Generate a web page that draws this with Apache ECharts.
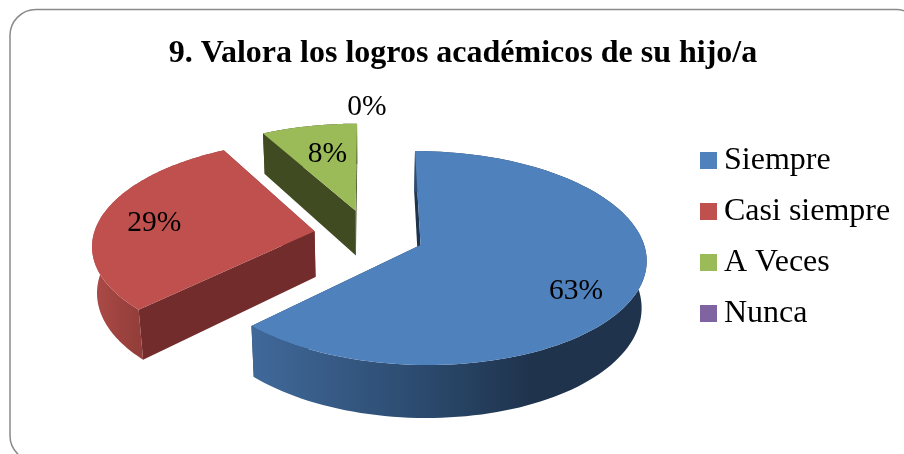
<!DOCTYPE html>
<html>
<head>
<meta charset="utf-8">
<style>html,body{margin:0;padding:0;background:#fff}#c{width:904px;height:454px}</style>
<script src="https://cdn.jsdelivr.net/npm/echarts@6/dist/echarts.min.js"></script>
</head>
<body>
<div id="c"></div>
<script>
const chartTitle = '9. Valora los logros académicos de su hijo/a';
const categories = ['Siempre', 'Casi siempre', 'A Veces', 'Nunca'];
const values = [62.6, 29.4, 8.0, 0];
const colors = ['#4F81BD', '#C0504D', '#9BBB59', '#8064A2'];
const cutColors = ['#1F334D', '#722C2B', '#404B22', '#3F3151'];
const labelReach = [0.80, 0.72, 0.56, 1.22];
const labelNudge = [[-18, 12], [-6, 2], [-1, -7], [-2, 1]];

// Projection of the tilted, exploded disc
const cx = 369, cy = 235, R = 221, tilt = 0.466, persp = 0.12, depth = 46, depthPersp = 0.018, explode = 0.25;
const total = values.reduce((a, b) => a + b, 0);
const FONT = '"Liberation Serif","Times New Roman",serif';

function project(X, Y, low) {
  const w = 1 - persp * Y;
  const wx = w + (low ? depthPersp : 0);
  return [cx + R * X / wx, cy + (R * Y * tilt + (low ? depth : 0)) / w];
}
function wallFill(i) {
  if (i === 0) return {type:'linear', global:true, x:252, y:0, x2:530, y2:0, colorStops:[
    {offset:0,color:'#40699A'},{offset:0.65,color:'#2A486B'},{offset:1,color:'#1F334D'}]};
  if (i === 1) return {type:'linear', global:true, x:95, y:0, x2:142, y2:0, colorStops:[
    {offset:0,color:'#AB4A46'},{offset:1,color:'#913D39'}]};
  return cutColors[i];
}
function sliceRender(i) {
  return function (params, api) {
    const v = api.value(0);
    let before = 0;
    for (let k = 0; k < i; k++) before += values[k];
    const a0 = before / total * 2 * Math.PI;
    const a1 = (before + v) / total * 2 * Math.PI;
    const mid = (a0 + a1) / 2;
    const ox = Math.sin(mid) * explode, oy = -Math.cos(mid) * explode;
    const children = [];
    const pct = Math.round(v / total * 100) + '%';
    if (v > 0) {
      const topArc = [], lowArc = [];
      const n = 120;
      for (let s = 0; s <= n; s++) {
        const a = a0 + (a1 - a0) * s / n;
        const X = ox + Math.sin(a), Y = oy - Math.cos(a);
        topArc.push(project(X, Y, false));
        lowArc.push(project(X, Y, true));
      }
      const apexT = project(ox, oy, false), apexL = project(ox, oy, true);
      const cut = (p, q) => ({type:'polygon', silent:true,
        shape:{points:[apexT, p, q, apexL]}, style:{fill:cutColors[i]}});
      children.push(cut(topArc[0], lowArc[0]));
      children.push(cut(topArc[n], lowArc[n]));
      children.push({type:'polygon', silent:true,
        shape:{points:topArc.concat(lowArc.slice().reverse())}, style:{fill:wallFill(i)}});
      children.push({type:'polygon', silent:true,
        shape:{points:[apexT].concat(topArc)}, style:{fill:colors[i]}});
    }
    const lab = project(ox + Math.sin(mid) * labelReach[i], oy - Math.cos(mid) * labelReach[i], false);
    children.push({type:'text', silent:true, x:lab[0] + labelNudge[i][0], y:lab[1] + labelNudge[i][1], z2:50,
      style:{text:pct, fill:'#000', font:'29.5px ' + FONT, align:'center', verticalAlign:'middle'}});
    return {type:'group', children};
  };
}

const chart = echarts.init(document.getElementById('c'), null, {renderer:'canvas'});
chart.setOption({
  animation:false,
  backgroundColor:'#fff',
  title:{text:chartTitle, left:458, top:33, textAlign:'center',
    textStyle:{fontFamily:FONT, fontWeight:'bold', fontSize:32, color:'#000'}},
  legend:{
    data:categories, orient:'vertical', left:700, top:143, itemWidth:17, itemHeight:17, itemGap:16,
    icon:'rect', selectedMode:false, padding:0,
    textStyle:{fontFamily:FONT, fontSize:32, color:'#000', lineHeight:35, padding:[0,0,0,2]}
  },
  graphic:[{type:'rect', z:-1, silent:true, shape:{x:10, y:9.5, width:912, height:452, r:26},
    style:{fill:'none', stroke:'#8A8A8A', lineWidth:1.5}}],
  series:categories.map((name, i) => ({
    type:'custom', name, coordinateSystem:'none', silent:true,
    itemStyle:{color:colors[i]},
    renderItem:sliceRender(i),
    data:[[values[i]]]
  }))
});
</script>
</body>
</html>
